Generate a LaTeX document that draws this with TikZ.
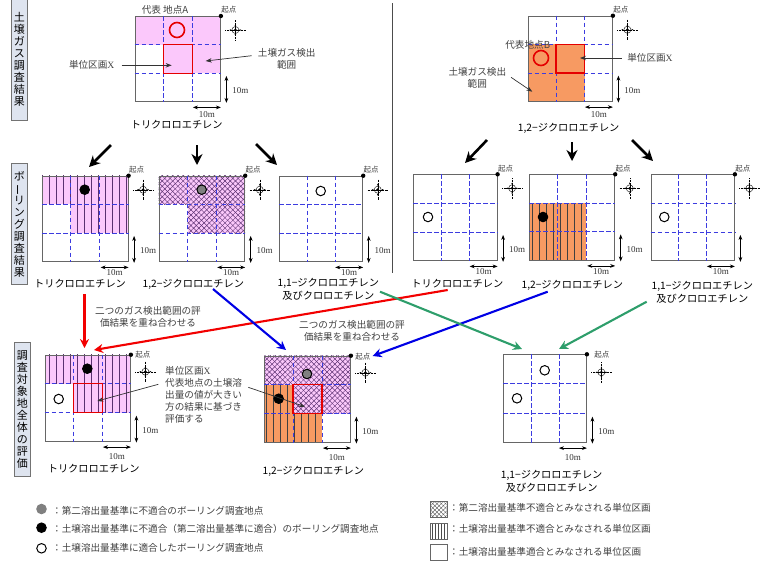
\documentclass[tikz,border=0pt]{standalone}
\usepackage{fontspec}
\setmainfont{Noto Sans CJK JP}
\newfontfamily\latinfont{Liberation Serif}
\usetikzlibrary{arrows.meta, calc, backgrounds, patterns.meta}
\definecolor{pinkfill}{HTML}{FBC8FB}
\definecolor{orangefill}{HTML}{F79A62}
\definecolor{hatchline}{HTML}{5A3070}
\definecolor{sidefill}{HTML}{DEE4EF}
\definecolor{gridblue}{HTML}{3C3CE0}
\definecolor{flowgreen}{HTML}{2E9E6B}

\newcommand{\dimdrop}{12.5}
% one 3x3 map: name, corners, place of the start label, height of the compass
\newcommand{\gridmap}[8]{%
    \node[mapbox, anchor=north west, minimum width={(#4-#2)*1pt}, minimum height={(#5-#3)*1pt}] (#1) at (#2,#3) {};
    \draw[griddash] ($(#1.north west)!1/3!(#1.north east)$) -- ($(#1.south west)!1/3!(#1.south east)$);
    \draw[griddash] ($(#1.north west)!2/3!(#1.north east)$) -- ($(#1.south west)!2/3!(#1.south east)$);
    \draw[griddash] ($(#1.north west)!1/3!(#1.south west)$) -- ($(#1.north east)!1/3!(#1.south east)$);
    \draw[griddash] ($(#1.north west)!2/3!(#1.south west)$) -- ($(#1.north east)!2/3!(#1.south east)$);
    \fill (#1.north east) circle (2.2);
    \node[smallnote] (#1start) at ($(#1.north east)+(#6,#7)$) {起点};
    \coordinate (#1comp) at ($(#1.north east)+(14.5,#8)$);
    \draw[line width=.4pt, densely dotted] ($(#1comp)+(-10,0)$) -- ($(#1comp)+(10,0)$);
    \draw[line width=.4pt, densely dotted] ($(#1comp)+(0,-10)$) -- ($(#1comp)+(0,10)$);
    \draw[tinyarrow] ($(#1comp)+(-6,0)$) -- ($(#1comp)+(6,0)$);
    \draw[tinyarrow] ($(#1comp)+(0,-6)$) -- ($(#1comp)+(0,6)$);
    \draw[line width=.4pt] (#1comp) circle (3.5);
    \fill (#1comp) circle (1.5);
    \draw[dimarrow] ($(#1.south east)+(5.5,-26)$) -- ($(#1.south east)+(5.5,1)$);
    \draw[dimarrow] ($(#1.south east)+(-28,5.5)$) -- ($(#1.south east)+(0,5.5)$);
    \node[dimtext] (#1dimh) at ($(#1.south east)+(-14,\dimdrop)$) {10m};
}
\newcommand{\sidedim}[1]{\node[dimtext] (#1dimv) at ($(#1.south east)+(19.5,-11)$) {10m};}
% cells (col0,row0) to (col1,row1) of a map, on the background layer
\newcommand{\cellfill}[6]{%
    \begin{pgfonlayer}{background}
    \path[#1] let \p1=(#2.north west), \p2=(#2.south east) in
        ({\x1+(\x2-\x1)*#3/3},{\y1+(\y2-\y1)*#4/3}) rectangle ({\x1+(\x2-\x1)*#5/3},{\y1+(\y2-\y1)*#6/3});
    \end{pgfonlayer}
}
\newcommand{\cellmark}[2]{%
    \draw[redbox] let \p1=(#1.north west), \p2=(#1.south east) in
        ({\x1+(\x2-\x1)/3},{\y1+(\y2-\y1)/3}) rectangle ({\x1+(\x2-\x1)*2/3},{\y1+(\y2-\y1)*2/3});
}

\begin{document}
\begin{tikzpicture}[
        x=1pt, y=-1pt,
        font=\fontsize{9.6}{12}\selectfont,
        mapbox/.style={rectangle, draw=black!60, line width=.9pt, inner sep=0pt},
        griddash/.style={draw=gridblue, line width=.8pt, dash pattern=on 4.5pt off 2.5pt},
        pinkcell/.style={fill=pinkfill},
        orangecell/.style={fill=orangefill},
        crosscell/.style={preaction={fill=pinkfill},
            preaction={pattern={Lines[angle=45, distance=3.7pt, line width=.45pt]}, pattern color=hatchline},
            pattern={Lines[angle=-45, distance=3.7pt, line width=.45pt]}, pattern color=hatchline},
        stripepink/.style={preaction={fill=pinkfill},
            pattern={Lines[angle=90, distance=7pt, line width=.6pt]}, pattern color=hatchline},
        stripeorange/.style={preaction={fill=orangefill},
            pattern={Lines[angle=90, distance=7pt, line width=.7pt]}, pattern color=black!75},
        redbox/.style={draw=red!90!black, line width=1.3pt},
        sidebox/.style={rectangle, draw=black!55, fill=sidefill, line width=.9pt, align=center,
                        inner sep=0pt, font=\fontsize{11}{12}\selectfont},
        title/.style={font=\fontsize{10.2}{13}\selectfont, inner sep=0pt},
        note/.style={text=black!75, align=center, inner sep=0pt},
        smallnote/.style={text=black!75, font=\fontsize{7.5}{9}\selectfont, inner sep=0pt},
        dimtext/.style={text=black!80, font=\fontsize{9}{10}\latinfont, inner sep=0pt},
        legend/.style={text=black!75, anchor=west, inner sep=0pt},
        point/.style={circle, draw=black, line width=1pt, minimum size=9.5pt, inner sep=0pt},
        redpoint/.style={circle, draw=red!90!black, line width=1.6pt, minimum size=15pt, inner sep=0pt},
        keybox/.style={rectangle, draw=black!60, line width=.6pt, minimum width=17pt, minimum height=16pt, inner sep=0pt},
        tinyarrow/.style={{Stealth[length=2pt]}-{Stealth[length=2pt]}, line width=.4pt},
        dimarrow/.style={{Stealth[length=5pt]}-{Stealth[length=5pt]}, line width=.7pt},
        thinarrow/.style={-{Stealth[length=6pt]}, line width=.7pt, draw=black!80},
        bigarrow/.style={-{Stealth[length=11pt, width=11pt]}, line width=2.6pt},
        redarrow/.style={-{Stealth[length=9pt, width=9pt]}, line width=2.1pt, draw=red!95!black},
        bluearrow/.style={-{Stealth[length=9pt, width=9pt]}, line width=2.1pt, draw=blue!90!black},
        greenarrow/.style={-{Stealth[length=9pt, width=9pt]}, line width=2.1pt, draw=flowgreen},
    ]
        \useasboundingbox (0,0) rectangle (760,563);

        % side labels
        \node[sidebox, minimum width=16pt, minimum height=122pt, anchor=north west] (sidegas) at (11,-2)
            {土\\壌\\ガ\\ス\\調\\査\\結\\果};
        \node[sidebox, minimum width=16pt, minimum height=121pt, anchor=north west] (sidebore) at (11,163)
            {ボ\\\rotatebox[origin=c]{90}{ー}\\リ\\ン\\グ\\調\\査\\結\\果};
        \node[sidebox, minimum width=16pt, minimum height=134pt, anchor=north west] (sideall) at (14,342)
            {調\\査\\対\\象\\地\\全\\体\\の\\評\\価};

        \coordinate (divtop) at (392.7,3);
        \coordinate (divbot) at (392.7,273);
        \draw[line width=.8pt, black!70] (divtop) -- (divbot);

        % maps of the first row
        \gridmap{gasa}{134.7}{16}{220}{101}{8}{-6}{14}
        \sidedim{gasa}
        \cellfill{pinkcell}{gasa}{0}{0}{3}{1}
        \cellfill{pinkcell}{gasa}{1}{1}{3}{2}
        \cellmark{gasa}{}
        \node[redpoint] (pointa) at (177,30) {};
        \node[note] (labela) at (165,10) {代表 地点A};
        \node[note] (unita) at (91.7,65) {単位区画{\latinfont X}};
        \node[note] (rangea) at (286.7,58.5) {土壌ガス検出\\範囲};
        \node[title] (titlea) at (176.7,125) {トリクロロエチレン};

        \gridmap{gasb}{527.7}{15.7}{612}{100.7}{8}{-6}{14}
        \sidedim{gasb}
        \cellfill{orangecell}{gasb}{0}{1}{2}{3}
        \cellmark{gasb}{}
        \node[redpoint] (pointb) at (541,58) {};
        \node[note] (labelb) at (527.7,45) {代表地点B};
        \node[note] (unitb) at (650,58.3) {単位区画{\latinfont X}};
        \node[note] (rangeb) at (477.3,78) {土壌ガス検出\\範囲};
        \node[title] (titleb) at (568.7,128.3) {1,2−ジクロロエチレン};

        % maps of the second row
        \renewcommand{\dimdrop}{11}
        \gridmap{borea}{42}{175.7}{127.7}{261}{8}{-6}{14}
        \sidedim{borea}
        \cellfill{stripepink}{borea}{0}{0}{3}{1}
        \cellfill{stripepink}{borea}{1}{1}{3}{2}
        \node[point, fill=black] (ptborea) at (84.7,189.7) {};
        \node[title] (titleborea) at (80,284) {トリクロロエチレン};

        \gridmap{boreb}{158.7}{175.7}{244.3}{261}{8}{-6}{14}
        \sidedim{boreb}
        \cellfill{crosscell}{boreb}{0}{0}{3}{1}
        \cellfill{crosscell}{boreb}{1}{1}{3}{2}
        \node[point, fill=black!50] (ptboreb) at (201.7,189.7) {};
        \node[title] (titleboreb) at (193.3,284) {1,2−ジクロロエチレン};

        \gridmap{borec}{279.3}{175.7}{362.3}{261}{8}{-6}{14}
        \sidedim{borec}
        \node[point, fill=white] (ptborec) at (320.7,191) {};
        \node[title, align=center] (titleborec) at (328.3,289.5) {1,1−ジクロロエチレン\\及びクロロエチレン};

        \gridmap{bored}{413.3}{174.3}{496.7}{260}{8}{-6}{14}
        \sidedim{bored}
        \node[point, fill=white] (ptbored) at (428,217) {};
        \node[title] (titlebored) at (457.3,284) {トリクロロエチレン};

        \gridmap{boree}{529}{174.3}{614.3}{259.5}{8}{-6}{14}
        \sidedim{boree}
        \cellfill{stripeorange}{boree}{0}{1}{2}{3}
        \node[point, fill=black] (ptboree) at (543,217) {};
        \node[title] (titleboree) at (572.3,285.7) {1,2−ジクロロエチレン};

        \gridmap{boref}{650.7}{174.3}{734}{260}{8}{-6}{14}
        \node[point, fill=white] (ptboref) at (664.3,217) {};
        \node[title, align=center] (titleboref) at (702.3,292.5) {1,1−ジクロロエチレン\\及びクロロエチレン};

        % maps of the third row
        \renewcommand{\dimdrop}{15}
        \gridmap{evala}{44.7}{354.7}{130}{440.7}{12}{0}{17}
        \sidedim{evala}
        \cellfill{stripepink}{evala}{0}{0}{3}{1}
        \cellfill{stripepink}{evala}{1}{1}{3}{2}
        \cellmark{evala}{}
        \node[point, fill=black] (ptevala) at (87.3,368.7) {};
        \node[point, fill=white] (ptevalaw) at (58.7,399) {};
        \node[title] (titleevala) at (93.7,468.3) {トリクロロエチレン};

        \gridmap{evalb}{264}{355.7}{350}{441.7}{12}{1}{17}
        \sidedim{evalb}
        \cellfill{crosscell}{evalb}{0}{0}{3}{1}
        \cellfill{crosscell}{evalb}{1}{1}{3}{2}
        \cellfill{stripeorange}{evalb}{0}{1}{1}{3}
        \cellfill{stripeorange}{evalb}{1}{2}{2}{3}
        \cellmark{evalb}{}
        \node[point, fill=black!50] (ptevalb) at (307,374) {};
        \node[point, fill=black] (ptevalbw) at (278.7,398.7) {};
        \node[title] (titleevalb) at (313.3,471.7) {1,2−ジクロロエチレン};

        \gridmap{evalc}{503.3}{354.3}{586}{441.7}{15}{0}{18}
        \sidedim{evalc}
        \node[point, fill=white] (ptevalc) at (544.7,370.3) {};
        \node[point, fill=white] (ptevalcw) at (517,398.3) {};
        \node[title, align=center] (titleevalc) at (551.7,481.5) {1,1−ジクロロエチレン\\及びクロロエチレン};

        % labels between the maps
        \node[note] (mergea) at (148,316.5) {二つのガス検出範囲の評\\価結果を重ね合わせる};
        \node[note] (mergeb) at (352,330.5) {二つのガス検出範囲の評\\価結果を重ね合わせる};
        \node[note, align=left, anchor=north west] (unitnote) at (165,366)
            {単位区画{\latinfont X}\\代表地点の土壌溶\\出量の値が大きい\\方の結果に基づき\\評価する};

        % free ends of the connectors
        \foreach \nm/\px/\py in {
            ua/121.7/65.3, ub/171.7/65.3, ra/251.7/55.7, rb/205.7/61,
            uc/621.7/58, ud/580/58, rc/511/77.3, rd/532.3/91.7,
            na/158.3/384.3, nb/97.3/401, nc/248.3/387.3, nd/305/406.7,
            ka/111/145, kb/89/167, kc/197/145, kd/197/165, ke/256/144, kf/277/165,
            kg/487/140, kh/465/163, ki/572/142, kj/572/161, kk/632/140, kl/653/161,
            va/84.5/294, vb/84.5/348, vc/447.7/290, vd/94/350,
            wa/213/289, wb/286/350, wc/547.7/291.7, wd/372.7/356,
            ga/380/291.7, gb/522/349, gc/646.7/301.7, gd/559/349}
            \coordinate (\nm) at (\px,\py);

        \foreach \from/\to in {ua/ub, ra/rb, uc/ud, rc/rd, na/nb, nc/nd}
            \draw[thinarrow] (\from) -- (\to);
        \foreach \from/\to in {ka/kb, kc/kd, ke/kf, kg/kh, ki/kj, kk/kl}
            \draw[bigarrow] (\from) -- (\to);
        \draw[redarrow] (va) -- (vb);
        \draw[redarrow] (vc) -- (vd);
        \draw[bluearrow] (wa) -- (wb);
        \draw[bluearrow] (wc) -- (wd);
        \draw[greenarrow] (ga) -- (gb);
        \draw[greenarrow] (gc) -- (gd);

        % legend
        \node[point, draw=black!50, fill=black!50] (keygray) at (41.5,509) {};
        \node[point, fill=black] (keyblack) at (41.5,527.7) {};
        \node[point, fill=white] (keywhite) at (41.5,548.3) {};
        \node[legend] (textgray) at (52,510.7) {：第二溶出量基準に不適合のボーリング調査地点};
        \node[legend] (textblack) at (52,529) {：土壌溶出量基準に不適合（第二溶出量基準に適合）のボーリング調査地点};
        \node[legend] (textwhite) at (52,548) {：土壌溶出量基準に適合したボーリング調査地点};

        \node[keybox, preaction={pattern={Lines[angle=45, distance=3pt, line width=.4pt]}, pattern color=black!70},
              pattern={Lines[angle=-45, distance=3pt, line width=.4pt]}, pattern color=black!70] (keycross) at (438.5,509.5) {};
        \node[keybox, pattern={Lines[angle=90, distance=3pt, line width=.5pt]}, pattern color=black!70] (keystripe) at (438.5,531) {};
        \node[keybox] (keyblank) at (438.5,552.5) {};
        \node[legend] (textcross) at (449,508) {：第二溶出量基準不適合とみなされる単位区画};
        \node[legend] (textstripe) at (449,529) {：土壌溶出量基準不適合とみなされる単位区画};
        \node[legend] (textblank) at (449,552) {：土壌溶出量基準適合とみなされる単位区画};
    \end{tikzpicture}
\end{document}
